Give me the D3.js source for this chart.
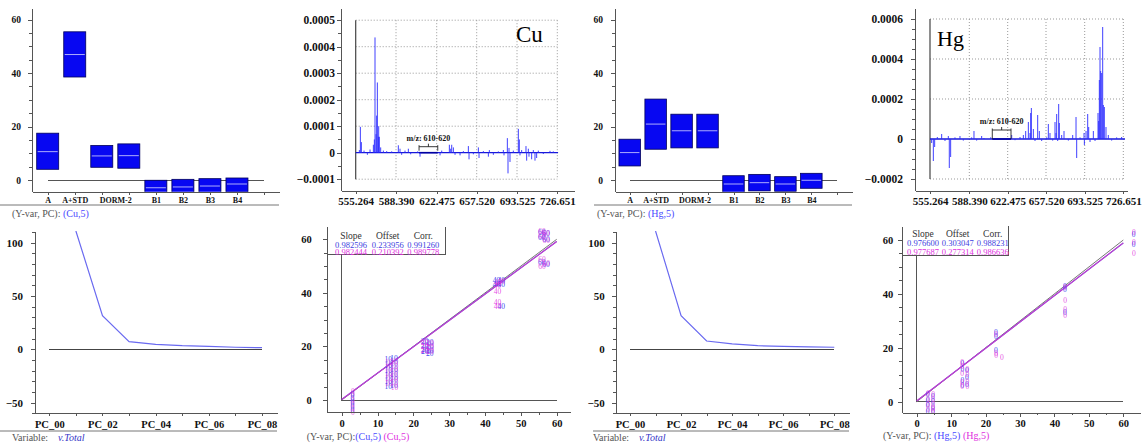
<!DOCTYPE html>
<html>
<head>
<meta charset="utf-8">
<script src="https://cdn.jsdelivr.net/npm/d3@7"></script>
<style>
body { margin: 0; background: #fff; }
svg, svg text { font-family: "Liberation Serif", "Times New Roman", serif; }
svg { display: block; }
.ax path, .ax line { stroke: #555; shape-rendering: crispEdges; }
.ax text { fill: #111; font-weight: bold; font-family: "Liberation Serif", "Times New Roman", serif; }
.foot { font-size: 10px; fill: #555; }
</style>
</head>
<body>
<svg id="chart" width="1145" height="443"></svg>
<script>
// ---- data ----
const barLabels = ["A", "A+STD", "DORM-2", "B1", "B2", "B3", "B4"];
const barLabelPos = [0, 1, 2.5, 4, 5, 6, 7];
const cuBarLow  = [4, 38.5, 4.75, 4.4, -5.7, -5.45, -5.0, -4.5];
const cuBarMid  = [10.6, 46.9, 9, 9.1, -2.9, -2.6, -2.25, -1.5];
const cuBarHigh = [17.5, 55.4, 12.9, 13.5, -0.1, 0.25, 0.5, 0.75];
const hgBarLow  = [5.25, 11.5, 12, 12, -4.6, -4.1, -4.25, -3.1];
const hgBarMid  = [10.25, 20.9, 18.4, 18.4, -1.5, -1, -1.5, -0.1];
const hgBarHigh = [15.25, 30.25, 24.6, 24.6, 1.6, 2.1, 1.25, 2.5];

const mzTicks = [555.264, 588.390, 622.475, 657.520, 693.525, 726.651];
const cuYTicks = [-0.0001, 0, 0.0001, 0.0002, 0.0003, 0.0004, 0.0005];
const hgYTicks = [-0.0002, 0, 0.0002, 0.0004, 0.0006];
const cuSpecEnds = [555.264, 727.3];
const hgSpecEnds = [555.264, 728.1];
const cuGap = [607.7, 623.4];
const hgGap = [608.8, 625.5];
const cuSpikes = [
  [558.28, 0.00001], [559.10, 0.0000975], [559.92, 0.00004], [562.11, 0.000008], [564.85, -0.000008],
  [567.04, 0.000012], [569.78, 0.00003], [570.60, 0.00005], [571.14, 0.000435], [571.97, 0.00007],
  [572.51, 0.00014], [573.06, 0.000265], [573.88, 0.00006], [574.16, 0.0001], [574.70, 0.00006],
  [575.80, 0.00002], [577.99, 0.000008], [580.73, 0.000006], [584.83, 0.000005], [590.35, 0.000028],
  [591.74, 0.000015], [593.14, -0.000008], [595.93, 0.000008], [598.73, 0.000015], [600.68, -0.000006],
  [606.55, 0.000005], [608.51, -0.000015], [625.40, -0.00001], [626.86, 0.000008], [633.57, 0.00003],
  [634.74, 0.000015], [635.62, 0.00003], [637.08, 0.00002], [638.54, -0.000008], [642.92, -0.00001],
  [645.84, 0.000006], [650.22, 0.000025], [650.80, -0.000025], [654.60, -0.000006], [659.01, 0.00002],
  [659.60, -0.00002], [663.47, 0.000006], [667.94, -0.000015], [668.83, 0.00001], [672.40, -0.000008],
  [676.86, 0.000005], [681.33, 0.00001], [681.92, -0.00001], [684.90, 0.000055], [685.49, -0.000078],
  [686.38, 0.000018], [687.27, -0.000035], [690.25, 0.000008], [694.62, 0.00009], [695.44, 0.00005],
  [695.99, -0.00001], [697.36, 0.00001], [700.92, 0.000025], [701.47, -0.00003], [702.84, 0.000015],
  [703.38, -0.000015], [705.57, -0.000025], [706.94, 0.00001], [708.31, -0.00003], [709.68, -0.00002],
  [711.05, 0.000008], [715.15, -0.000005], [720.63, 0.000007], [723.37, 0.000005]
];
const hgSpikes = [
  [556.67, -0.00002], [558.07, -0.00011], [559.19, -0.00004], [561.44, 0.00001], [565.09, 0.000025],
  [567.90, -0.00001], [570.70, 0.000015], [571.54, -0.000145], [572.67, -0.00009], [576.32, 0.000008],
  [580.53, 0.000015], [583.34, -0.000008], [590.46, 0.000008], [592.54, 0.00004], [594.91, -0.000008],
  [599.36, 0.000015], [601.43, 0.000005], [607.36, 0.000008], [626.13, 0.00002], [629.18, -0.000006],
  [633.75, 0.00001], [636.80, 0.00002], [638.93, 0.00004], [641.37, 0.000085], [642.89, 0.00003],
  [643.50, 0.00013], [644.11, 0.000155], [645.94, 0.00005], [647.46, -0.00001], [649.90, 0.00012],
  [651.42, 0.00004], [653.56, -0.00001], [658.14, 0.000008], [659.69, 0.000075], [661.24, 0.00003],
  [663.73, -0.000008], [665.90, 0.000085], [666.83, 0.00003], [667.45, 0.000125], [668.38, -0.00001],
  [669.31, 0.000175], [669.93, 0.00008], [672.11, 0.00002], [674.28, 0.00004], [678.31, -0.000008],
  [682.35, 0.00002], [685.45, 0.00011], [686.07, -0.000095], [689.18, 0.000008], [692.90, 0.00003],
  [693.22, -0.00003], [694.67, 0.00004], [696.09, 0.000125], [696.95, 0.00006], [698.09, -0.000015],
  [700.95, 0.00004], [702.38, -0.00001], [704.95, 0.00013], [705.52, 0.00009], [706.09, 0.000295],
  [706.66, 0.00046], [707.23, 0.00034], [708.09, 0.00033], [708.95, 0.00056], [709.52, 0.00017],
  [710.38, 0.00016], [711.80, 0.00006], [713.80, 0.00002], [716.66, -0.000008], [720.94, 0.000008],
  [725.22, 0.00001]
];

const screePC = [1, 2, 3, 4, 5, 6, 7, 8];
const cuScree = [111, 31.6, 7.2, 4.7, 3.4, 2.8, 1.9, 1.5];
const hgScree = [111, 31.6, 7.8, 5.0, 3.4, 2.8, 2.2, 1.9];

const cuFit = { blue: [0.982596, 0.233956, 0.991260], magenta: [0.982444, 0.210392, 0.989778] };
const hgFit = { blue: [0.976600, 0.303047, 0.988231], magenta: [0.977687, 0.277314, 0.986636] };
const cuFitText = { blue: ["0.982596", "0.233956", "0.991260"], magenta: ["0.982444", "0.210392", "0.989778"] };
const hgFitText = { blue: ["0.976600", "0.303047", "0.988231"], magenta: ["0.977687", "0.277314", "0.986636"] };

// [reference, predicted, label]
const cuPtsBlue = [
  [3.0, 2, "0"], [3.0, 0.5, "0"], [3.0, -1, "0"], [3.0, -2.5, "0"], [3.0, -4, "0"],
  [13.0, 15, "10"], [13.0, 13, "10"], [13.0, 11, "10"], [13.0, 9, "10"], [13.0, 7, "10"], [13.0, 5, "10"],
  [14.6, 15.5, "10"], [14.6, 13.5, "10"], [14.6, 11.5, "10"], [14.6, 9.5, "10"], [14.6, 7.5, "10"], [14.6, 5.5, "10"],
  [23.2, 22, "20"], [23.2, 20.5, "20"], [23.2, 19, "20"], [23.2, 18, "20"],
  [24.6, 21.5, "20"], [24.6, 20, "20"], [24.6, 18.5, "20"], [24.6, 17.5, "20"],
  [43.2, 44.5, "40"], [43.2, 43, "40"], [44.5, 44.8, "40"], [44.5, 43.2, "40"], [44.5, 35, "40"],
  [55.8, 62.5, "60"], [55.8, 60.5, "60"], [55.8, 51.5, "60"], [57.0, 62, "60"], [57.0, 60, "60"], [57.0, 50.5, "60"]
];
const cuPtsMagenta = [
  [3.1, 3, "0"], [3.1, 1.5, "0"], [3.1, 0, "0"], [3.1, -1.5, "0"], [3.1, -3, "0"], [3.1, -4.5, "0"],
  [13.1, 14, "10"], [13.1, 12, "10"], [13.1, 10, "10"], [13.1, 8, "10"], [13.1, 6, "10"],
  [14.7, 14.5, "10"], [14.7, 12.5, "10"], [14.7, 10.5, "10"], [14.7, 8.5, "10"], [14.7, 6.5, "10"], [14.7, 4.8, "10"],
  [23.1, 21.5, "20"], [23.1, 20, "20"], [23.1, 18.5, "20"], [24.7, 21, "20"], [24.7, 19.5, "20"], [24.7, 18, "20"],
  [43.5, 44, "40"], [43.5, 42.8, "40"], [43.5, 40.4, "40"], [43.5, 36.5, "40"], [43.5, 34.8, "40"], [44.6, 44.2, "40"],
  [55.9, 62.8, "60"], [55.9, 61, "60"], [55.9, 52.3, "60"], [55.9, 50, "60"],
  [57.1, 62.2, "60"], [57.1, 59.5, "60"], [57.1, 51, "60"]
];
const hgPtsBlue = [
  [3.2, 2.5, "0"], [3.2, 0.5, "0"], [3.2, -1.5, "0"], [3.2, -3.5, "0"],
  [4.7, 2, "0"], [4.7, 0, "0"], [4.7, -2, "0"], [4.7, -3.8, "0"],
  [13.3, 14, "0"], [13.3, 12, "0"], [13.3, 8, "0"], [13.3, 6, "0"],
  [14.6, 11.5, "0"], [14.6, 9, "0"], [14.6, 6.5, "0"],
  [23.0, 25.5, "0"], [23.0, 24.2, "0"], [23.0, 19, "0"],
  [43.0, 42.8, "0"], [43.0, 41.5, "0"], [43.0, 33, "0"],
  [63.0, 62, "0"], [63.0, 58.5, "0"]
];
const hgPtsMagenta = [
  [3.3, 3, "0"], [3.3, 1, "0"], [3.3, -1, "0"], [3.3, -3, "0"],
  [4.8, 2.5, "0"], [4.8, 0.8, "0"], [4.8, -1, "0"], [4.8, -2.5, "0"], [4.8, -3.8, "0"],
  [13.2, 14.5, "0"], [13.2, 13, "0"], [13.2, 10.5, "0"], [13.2, 7, "0"], [13.2, 5.5, "0"],
  [14.7, 12, "0"], [14.7, 10, "0"], [14.7, 7.5, "0"], [14.7, 5.8, "0"],
  [23.1, 25, "0"], [23.1, 18, "0"], [23.1, 17, "0"], [24.7, 16.5, "0"],
  [43.1, 42.2, "0"], [43.1, 37.5, "0"], [43.1, 34.2, "0"], [43.1, 31.8, "0"],
  [63.1, 62.8, "0"], [63.1, 59, "0"], [63.1, 55, "0"]
];

// ---- drawing ----
const svg = d3.select("#chart");
const BLUE = "#4646f0", MAGENTA = "#e030e0";

// linear scale fixed by two anchor points, spanning the pixel range pa..pb
function anchored(v0, p0, v1, p1, pa, pb) {
  const k = (p1 - p0) / (v1 - v0);
  return d3.scaleLinear().domain([v0 + (pa - p0) / k, v0 + (pb - p0) / k]).range([pa, pb]);
}

function minor(g, axis, vals, size) {
  g.append("g").attr("class", "ax")
    .call(axis.tickValues(vals).tickSize(size).tickFormat(""))
    .call(s => s.select(".domain").remove());
}

function clip(id, x, y, w, h) {
  svg.append("clipPath").attr("id", id).append("rect")
    .attr("x", x).attr("y", y).attr("width", w).attr("height", h);
  return `url(#${id})`;
}

function footer(x, y, parts) {
  const t = svg.append("text").attr("class", "foot").attr("x", x).attr("y", y);
  parts.forEach(p => t.append("tspan").text(p[0]).attr("fill", p[1] || "#555")
    .attr("font-style", p[2] || null).attr("xml:space", "preserve"));
}

function barPanel(o) {
  const x = anchored(0, o.x0, 8, o.x8, o.axL, o.axR);
  const y = anchored(0, 180, 60, 19.5, o.axB, o.axT);
  const g = svg.append("g");
  g.append("line").attr("x1", x(0)).attr("x2", x(8)).attr("y1", y(0)).attr("y2", y(0))
    .attr("stroke", "#555").attr("shape-rendering", "crispEdges");
  const bars = g.append("g").attr("clip-path", clip(o.id, o.axL, o.axT, o.axR - o.axL, o.axB - o.axT));
  bars.selectAll("rect").data(o.low).join("rect")
    .attr("x", (d, i) => x(i) - o.bw / 2).attr("width", o.bw)
    .attr("y", (d, i) => y(o.high[i])).attr("height", (d, i) => y(d) - y(o.high[i]))
    .attr("fill", "#0707f2").attr("stroke", "#00005a").attr("stroke-width", 0.8);
  bars.selectAll("line").data(o.mid).join("line")
    .attr("x1", (d, i) => x(i) - o.bw / 2 + 1).attr("x2", (d, i) => x(i) + o.bw / 2 - 1)
    .attr("y1", d => y(d)).attr("y2", d => y(d)).attr("stroke", "#d8d8ff").attr("stroke-width", 0.8);

  const ya = g.append("g").attr("class", "ax").attr("transform", `translate(${o.axL},0)`);
  ya.call(d3.axisLeft(y).tickValues([0, 20, 40, 60]).tickSize(4).tickPadding(o.yPad).tickSizeOuter(0))
    .selectAll("text").style("font-size", "9.5px");
  minor(ya, d3.axisLeft(y), d3.range(-0, 61, 5), 3);
  const xa = g.append("g").attr("class", "ax").attr("transform", `translate(0,${o.axB})`);
  xa.call(d3.axisBottom(x).tickValues(d3.range(9)).tickFormat("").tickSize(3).tickSizeOuter(0));
  xa.append("g").attr("class", "ax")
    .call(d3.axisBottom(x).tickValues(barLabelPos).tickFormat((d, i) => barLabels[i]).tickSize(0).tickPadding(6))
    .call(s => s.select(".domain").remove())
    .selectAll("text").style("font-size", "8px");

  g.append("line").attr("x1", o.sepL).attr("x2", o.axR).attr("y1", 205).attr("y2", 205)
    .attr("stroke", "#777");
  footer(o.footX, 216.5, [["(Y-var, PC): "], [o.tag, "#4a4aff"]]);
}

function specPanel(o) {
  const base = d3.scaleLinear().domain(mzTicks).range(o.tickPos);
  const x = d3.scaleLinear()
    .domain([base.invert(o.axL), ...mzTicks, base.invert(o.axR)])
    .range([o.axL, ...o.tickPos, o.axR]);
  const y = anchored(0, o.y0, o.vRef, o.yRef, o.axB, o.axT);
  const g = svg.append("g");
  const gTop = y(d3.max(o.yTicks)), gBot = y(d3.min(o.yTicks));

  g.selectAll("line.hg").data(o.yTicks.filter(v => v !== 0)).join("line")
    .attr("x1", x(mzTicks[0])).attr("x2", x(mzTicks[5])).attr("y1", d => y(d)).attr("y2", d => y(d))
    .attr("stroke", "#999").attr("stroke-dasharray", "1,2");
  g.selectAll("line.vg").data(mzTicks.slice(1)).join("line")
    .attr("x1", d => x(d)).attr("x2", d => x(d)).attr("y1", gTop).attr("y2", gBot)
    .attr("stroke", "#999").attr("stroke-dasharray", "1,2");
  g.append("line").attr("x1", x(mzTicks[0])).attr("x2", x(mzTicks[0])).attr("y1", gTop).attr("y2", gBot)
    .attr("stroke", "#444").attr("stroke-width", 1.2);

  g.append("line").attr("x1", x(o.ends[0])).attr("x2", x(o.ends[1])).attr("y1", y(0)).attr("y2", y(0))
    .attr("stroke", "#1818d8").attr("stroke-width", 1.3);
  g.append("line").attr("x1", x(o.gap[0])).attr("x2", x(o.gap[1])).attr("y1", y(0)).attr("y2", y(0))
    .attr("stroke", "#0000a0").attr("stroke-width", 1.6);
  g.selectAll("line.sp").data(o.spikes).join("line")
    .attr("x1", d => x(d[0])).attr("x2", d => x(d[0])).attr("y1", y(0)).attr("y2", d => y(d[1]))
    .attr("stroke", "#2a2aff").attr("stroke-width", 0.9);

  // m/z gap bracket
  const bx0 = x(o.gap[0]), bx1 = x(o.gap[1]), bm = (bx0 + bx1) / 2;
  g.append("path")
    .attr("d", `M${bx0},${o.brLegEnd}V${o.brY - 1.5}M${bx0},${o.brY}H${bx1}M${bx1},${o.brY - 1.5}V${o.brLegEnd}M${bm},${o.brY}v-3`)
    .attr("fill", "none").attr("stroke", "#222").attr("stroke-width", 0.9);
  g.append("text").attr("x", bm).attr("y", o.brY - 6).attr("text-anchor", "middle")
    .attr("font-size", "8px").attr("font-weight", "bold").attr("fill", "#111").text("m/z: 610-620");

  g.append("text").attr("x", o.lblX).attr("y", o.lblY).attr("font-size", o.lblSize)
    .attr("fill", "#000").text(o.element);

  const ya = g.append("g").attr("class", "ax").attr("transform", `translate(${o.axL},0)`);
  ya.call(d3.axisLeft(y).tickValues(o.yTicks).tickSize(4).tickPadding(o.yPad).tickSizeOuter(0)
      .tickFormat(d => d === 0 ? "0" : d3.format(".4f")(d)))
    .selectAll("text").style("font-size", "11.5px");
  minor(ya, d3.axisLeft(y), o.yMinor, 3);
  g.append("g").attr("class", "ax").attr("transform", `translate(0,${o.axB})`)
    .call(d3.axisBottom(x).tickValues(mzTicks).tickFormat(d3.format(".3f")).tickSize(3).tickPadding(4).tickSizeOuter(0))
    .selectAll("text").style("font-size", "11px");
}

function screePanel(o) {
  const x = anchored(0, o.pc0, 8, o.pc8, o.axL, o.axR);
  const y = anchored(0, 349.3, 50, 296, 413.3, 231);
  const g = svg.append("g");
  g.append("line").attr("x1", x(0)).attr("x2", x(8)).attr("y1", y(0)).attr("y2", y(0))
    .attr("stroke", "#444").attr("shape-rendering", "crispEdges");
  const line = d3.line().x((d, i) => x(screePC[i])).y(d => y(d));
  g.append("path").datum(o.vals).attr("d", line)
    .attr("clip-path", clip(o.id, o.axL, 231, o.axR - o.axL, 182))
    .attr("fill", "none").attr("stroke", "#6a6af0").attr("stroke-width", 1.2);

  const ya = g.append("g").attr("class", "ax").attr("transform", `translate(${o.axL},0)`);
  ya.call(d3.axisLeft(y).tickValues([-50, 0, 50, 100]).tickSize(4).tickPadding(o.yPad).tickSizeOuter(0))
    .selectAll("text").style("font-size", "11px");
  minor(ya, d3.axisLeft(y), d3.range(-60, 111, 10), 3);
  g.append("g").attr("class", "ax").attr("transform", `translate(0,413.3)`)
    .call(d3.axisBottom(x).tickValues(d3.range(9)).tickFormat(i => i % 2 === 0 ? "PC_0" + i : "")
      .tickSize(3).tickPadding(4).tickSizeOuter(0))
    .selectAll("text").style("font-size", "10.5px");

  g.append("line").attr("x1", o.sepL).attr("x2", o.axR).attr("y1", 431).attr("y2", 431)
    .attr("stroke", "#777");
  footer(o.footX, 440.5, [["Variable:    "], ["v.Total", "#3434c8", "italic"]]);
}

function scatterPanel(o) {
  const x = anchored(0, o.x0, 60, o.x60, o.axL, o.axR);
  const y = anchored(0, o.y0, 60, o.y60, o.axB, o.axT);
  const g = svg.append("g");

  g.append("path").attr("d", `M${x(0)},${o.boxB}V${y(0)}H${x(60)}`)
    .attr("fill", "none").attr("stroke", "#555").attr("shape-rendering", "crispEdges");
  g.append("path").attr("d", `M${o.axL},${o.boxB}H${o.boxR}V${o.axT}`)
    .attr("fill", "none").attr("stroke", "#555").attr("shape-rendering", "crispEdges");

  const fitLine = f => `M${x(0)},${y(f[1])}L${x(60)},${y(60 * f[0] + f[1])}`;
  g.append("path").attr("d", `M${x(0)},${y(0)}L${x(60)},${y(60)}`).attr("stroke", "#777").attr("fill", "none");
  g.append("path").attr("d", fitLine(o.fit.blue)).attr("stroke", "#7048d8").attr("fill", "none").attr("stroke-width", 1.1);
  g.append("path").attr("d", fitLine(o.fit.magenta)).attr("stroke", "#c040d0").attr("fill", "none").attr("stroke-width", 1.1);

  const pts = g.append("g").attr("font-size", "7.5px").attr("text-anchor", "middle")
    .attr("dominant-baseline", "central");
  pts.selectAll("text.b").data(o.blue).join("text").attr("class", "b")
    .attr("x", d => x(d[0])).attr("y", d => y(d[1])).attr("fill", BLUE).text(d => d[2]);
  pts.selectAll("text.m").data(o.magenta).join("text").attr("class", "m")
    .attr("x", d => x(d[0])).attr("y", d => y(d[1])).attr("fill", MAGENTA).attr("fill-opacity", 0.85).text(d => d[2]);

  // fit statistics
  const lg = g.append("g").attr("text-anchor", "middle");
  ["Slope", "Offset", "Corr."].forEach((h, i) => {
    lg.append("text").attr("x", o.cols[i]).attr("y", o.rows[0]).attr("font-size", "9.5px").attr("fill", "#333").text(h);
    lg.append("text").attr("x", o.cols[i]).attr("y", o.rows[1]).attr("font-size", "8.5px").attr("fill", "#4040e0").text(o.fitText.blue[i]);
    lg.append("text").attr("x", o.cols[i]).attr("y", o.rows[2]).attr("font-size", "8.5px").attr("fill", MAGENTA).text(o.fitText.magenta[i]);
  });

  const ya = g.append("g").attr("class", "ax").attr("transform", `translate(${o.axL},0)`);
  ya.call(d3.axisLeft(y).tickValues([0, 20, 40, 60]).tickSize(4).tickPadding(o.yPad).tickSizeOuter(0))
    .selectAll("text").style("font-size", "10.5px");
  minor(ya, d3.axisLeft(y), d3.range(-0, 61, 5), 3);
  const xa = g.append("g").attr("class", "ax").attr("transform", `translate(0,${o.axB})`);
  xa.call(d3.axisBottom(x).tickValues(d3.range(0, 61, 10)).tickSize(4).tickPadding(3).tickSizeOuter(0))
    .selectAll("text").style("font-size", "10.5px");
  minor(xa, d3.axisBottom(x), d3.range(-0, 61, 5), 2.5);

  footer(o.footX, o.footY, [["(Y-var, PC):" + o.sp], [o.tag + " ", "#4a4aff"], [o.tag, MAGENTA]]);
}

barPanel({ id: "cb", low: cuBarLow, mid: cuBarMid, high: cuBarHigh, x0: 47.7, x8: 264, axL: 32, axR: 279,
  axT: 8.3, axB: 191.7, bw: 22, yPad: 7, sepL: 0, footX: 12, tag: "(Cu,5)" });
barPanel({ id: "hb", low: hgBarLow, mid: hgBarMid, high: hgBarHigh, x0: 629.7, x8: 837.3, axL: 615, axR: 852,
  axT: 8.3, axB: 191.7, bw: 21.5, yPad: 8, sepL: 594, footX: 597, tag: "(Hg,5)" });

specPanel({ element: "Cu", spikes: cuSpikes, ends: cuSpecEnds, gap: cuGap, yTicks: cuYTicks,
  yMinor: d3.range(-2, 11).map(i => i * 0.00005),
  tickPos: [355.7, 396, 436.7, 476.7, 517, 557.3], axL: 341, axR: 574, axT: 8.3, axB: 190.7,
  y0: 152.7, vRef: 0.0001, yRef: 126.2, yPad: 2, brY: 146.7, brLegEnd: 150.7,
  lblX: 516, lblY: 42, lblSize: "23px" });
specPanel({ element: "Hg", spikes: hgSpikes, ends: hgSpecEnds, gap: hgGap, yTicks: hgYTicks,
  yMinor: d3.range(-4, 13).map(i => i * 0.00005),
  tickPos: [930, 969.3, 1007.7, 1046, 1084.7, 1123.3], axL: 915, axR: 1127, axT: 8.3, axB: 190.7,
  y0: 139, vRef: 0.0002, yRef: 99, yPad: 8, brY: 130, brLegEnd: 139,
  lblX: 937, lblY: 45.5, lblSize: "22px" });

screePanel({ id: "cs", vals: cuScree, pc0: 49.3, pc8: 262, axL: 35, axR: 277, yPad: 8, sepL: 0, footX: 12 });
screePanel({ id: "hs", vals: hgScree, pc0: 630, pc8: 834.3, axL: 615.7, axR: 849, yPad: 7, sepL: 593, footX: 593 });

scatterPanel({ blue: cuPtsBlue, magenta: cuPtsMagenta, fit: cuFit, fitText: cuFitText,
  x0: 341.7, x60: 556.7, axL: 326.7, axR: 570, y0: 400, y60: 239.3, axB: 412.3, axT: 226.7,
  boxR: 445, boxB: 254.3, cols: [351, 387.7, 423.3], rows: [238.5, 247.5, 255.3], yPad: 11,
  footX: 306.7, footY: 440, sp: "", tag: "(Cu,5)" });
scatterPanel({ blue: hgPtsBlue, magenta: hgPtsMagenta, fit: hgFit, fitText: hgFitText,
  x0: 916.7, x60: 1123.3, axL: 902.3, axR: 1140, y0: 401.7, y60: 240, axB: 412.7, axT: 226,
  boxR: 1008.3, boxB: 255, cols: [923, 957.7, 992.7], rows: [236.5, 246.3, 254.6], yPad: 5,
  footX: 883, footY: 439, sp: " ", tag: "(Hg,5)" });
</script>
</body>
</html>
